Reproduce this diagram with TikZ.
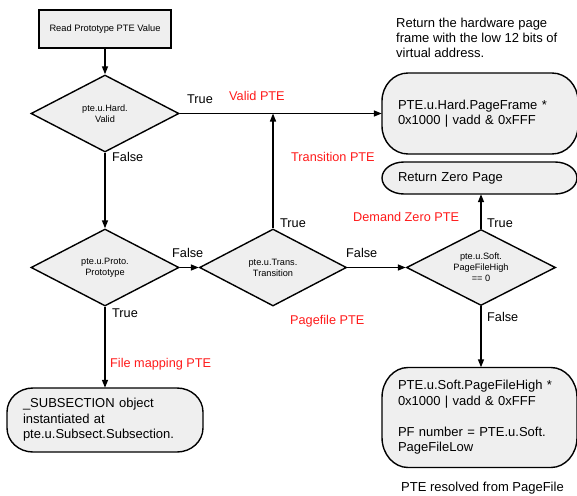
\documentclass[tikz,border=0pt]{standalone}
\usepackage{fontspec}
\setmainfont{Liberation Sans}
\usetikzlibrary{shapes.geometric,arrows.meta}
\definecolor{boxfill}{HTML}{EFEFEF}
\definecolor{lblred}{HTML}{FF1A1A}
% pill outline: x1, y1 (top), x2, y2 (bottom), rx, ry
\newcommand\pillpath[6]{%
  \path[draw,line width=1.4pt,fill=boxfill]
    (#1+#5,#2) -- (#3-#5,#2)
    .. controls (#3-#5+0.5523*#5,#2) and (#3,#2+#6-0.5523*#6) .. (#3,#2+#6)
    -- (#3,#4-#6)
    .. controls (#3,#4-#6+0.5523*#6) and (#3-#5+0.5523*#5,#4) .. (#3-#5,#4)
    -- (#1+#5,#4)
    .. controls (#1+#5-0.5523*#5,#4) and (#1,#4-#6+0.5523*#6) .. (#1,#4-#6)
    -- (#1,#2+#6)
    .. controls (#1,#2+#6-0.5523*#6) and (#1+#5-0.5523*#5,#2) .. (#1+#5,#2) -- cycle;}
\begin{document}
\begin{tikzpicture}[x=1pt,y=-1pt,
  lw/.style={line width=1.4pt},
  rectbox/.style={draw,lw,fill=boxfill,inner sep=0pt,minimum width=132pt,minimum height=38pt,font=\fontsize{9.3}{11}\selectfont},
  dia/.style={diamond,draw,lw,fill=boxfill,inner sep=0pt,aspect=1.95,align=center,font=\fontsize{9.2}{10.8}\selectfont},
  rbox/.style={align=left,inner xsep=16pt,inner ysep=0pt,font=\fontsize{13}{15.5}\selectfont},
  lbl/.style={anchor=base west,inner sep=0pt,font=\fontsize{12.7}{15}\selectfont},
  redlbl/.style={lbl,text=lblred},
  arr/.style={lw,-{Triangle[length=8pt,width=6pt]}}]
\useasboundingbox (0,0) rectangle (577,495);

\node[rectbox] (read) at (105,29) {Read Prototype PTE Value};
\node[dia,minimum width=148pt,minimum height=77pt] (d1) at (105,113.5) {pte.u.Hard.\\Valid};
\node[dia,minimum width=148pt,minimum height=77pt] (d2) at (105,267.5) {pte.u.Proto.\\Prototype};
\node[dia,minimum width=147pt,minimum height=77pt] (d3) at (273,267.5) {pte.u.Trans.\\Transition};
\node[dia,minimum width=149pt,minimum height=76pt] (d4) at (481,267.5) {pte.u.Soft.\\PageFileHigh\\== 0};

\pillpath{382}{73}{578}{154}{26}{28}
\node[rbox,minimum width=196pt,text width=164pt,minimum height=81pt] (pf) at (480,113.5)
  {PTE.u.Hard.PageFrame *\\0x1000 | vadd \& 0xFFF};
\pillpath{382}{162}{577}{194}{22}{16}
\node[rbox,minimum width=195pt,text width=163pt,minimum height=32pt] (zero) at (479.5,178)
  {Return Zero Page};
\pillpath{382}{367.5}{577}{467.5}{26}{30}
\node[rbox,minimum width=195pt,text width=163pt,minimum height=100pt] (pfh) at (479.5,417.5)
  {PTE.u.Soft.PageFileHigh *\\0x1000 | vadd \& 0xFFF\\\mbox{}\\PF number = PTE.u.Soft.\\PageFileLow};
\pillpath{7}{388}{203}{452}{26}{24}
\node[rbox,minimum width=196pt,text width=164pt,minimum height=64pt] (sub) at (105,420)
  {\_SUBSECTION object\\instantiated at\\pte.u.Subsect.Subsection.};

\node[anchor=north west,inner sep=0pt,align=left,font=\fontsize{13}{15}\selectfont] (note) at (396,18.3)
  {Return the hardware page\\frame with the low 12 bits of\\virtual address.};
\node[anchor=base west,inner sep=0pt,font=\fontsize{13}{15}\selectfont] (resolved) at (401,491.5) {PTE resolved from PageFile};

\coordinate (j) at (d3.north |- d1.east);
\draw[arr] (read) -- (d1);
\draw[arr] (d1.east) -- (d1.east -| pf.west);
\draw[arr] (d3.north) -- (j);
\draw[arr] (d1.south) -- (d2.north);
\draw[arr] (d2.east) -- (d3.west);
\draw[arr] (d3.east) -- (d4.west |- d3.east);
\draw[arr] (d4.north) -- (d4.north |- zero.south);
\draw[arr] (d4.south) -- (d4.south |- pfh.north);
\draw[arr] (d2.south) -- (sub.north);

\node[lbl] (t1) at (187,103.5) {True};
\node[redlbl] (r1) at (229,100.5) {Valid PTE};
\node[lbl] (f1) at (112,161.5) {False};
\node[redlbl] (r2) at (291,161.5) {Transition PTE};
\node[redlbl] (r3) at (353,221.5) {Demand Zero PTE};
\node[lbl] (t4) at (487,227.5) {True};
\node[lbl] (t3) at (280,227.5) {True};
\node[lbl] (f2) at (172,257.5) {False};
\node[lbl] (t2) at (112,317.5) {True};
\node[redlbl] (r4) at (110,367.5) {File mapping PTE};
\node[lbl] (f3) at (346,257.5) {False};
\node[redlbl] (r5) at (290,324.5) {Pagefile PTE};
\node[lbl] (f4) at (487,321.5) {False};
\end{tikzpicture}
\end{document}
